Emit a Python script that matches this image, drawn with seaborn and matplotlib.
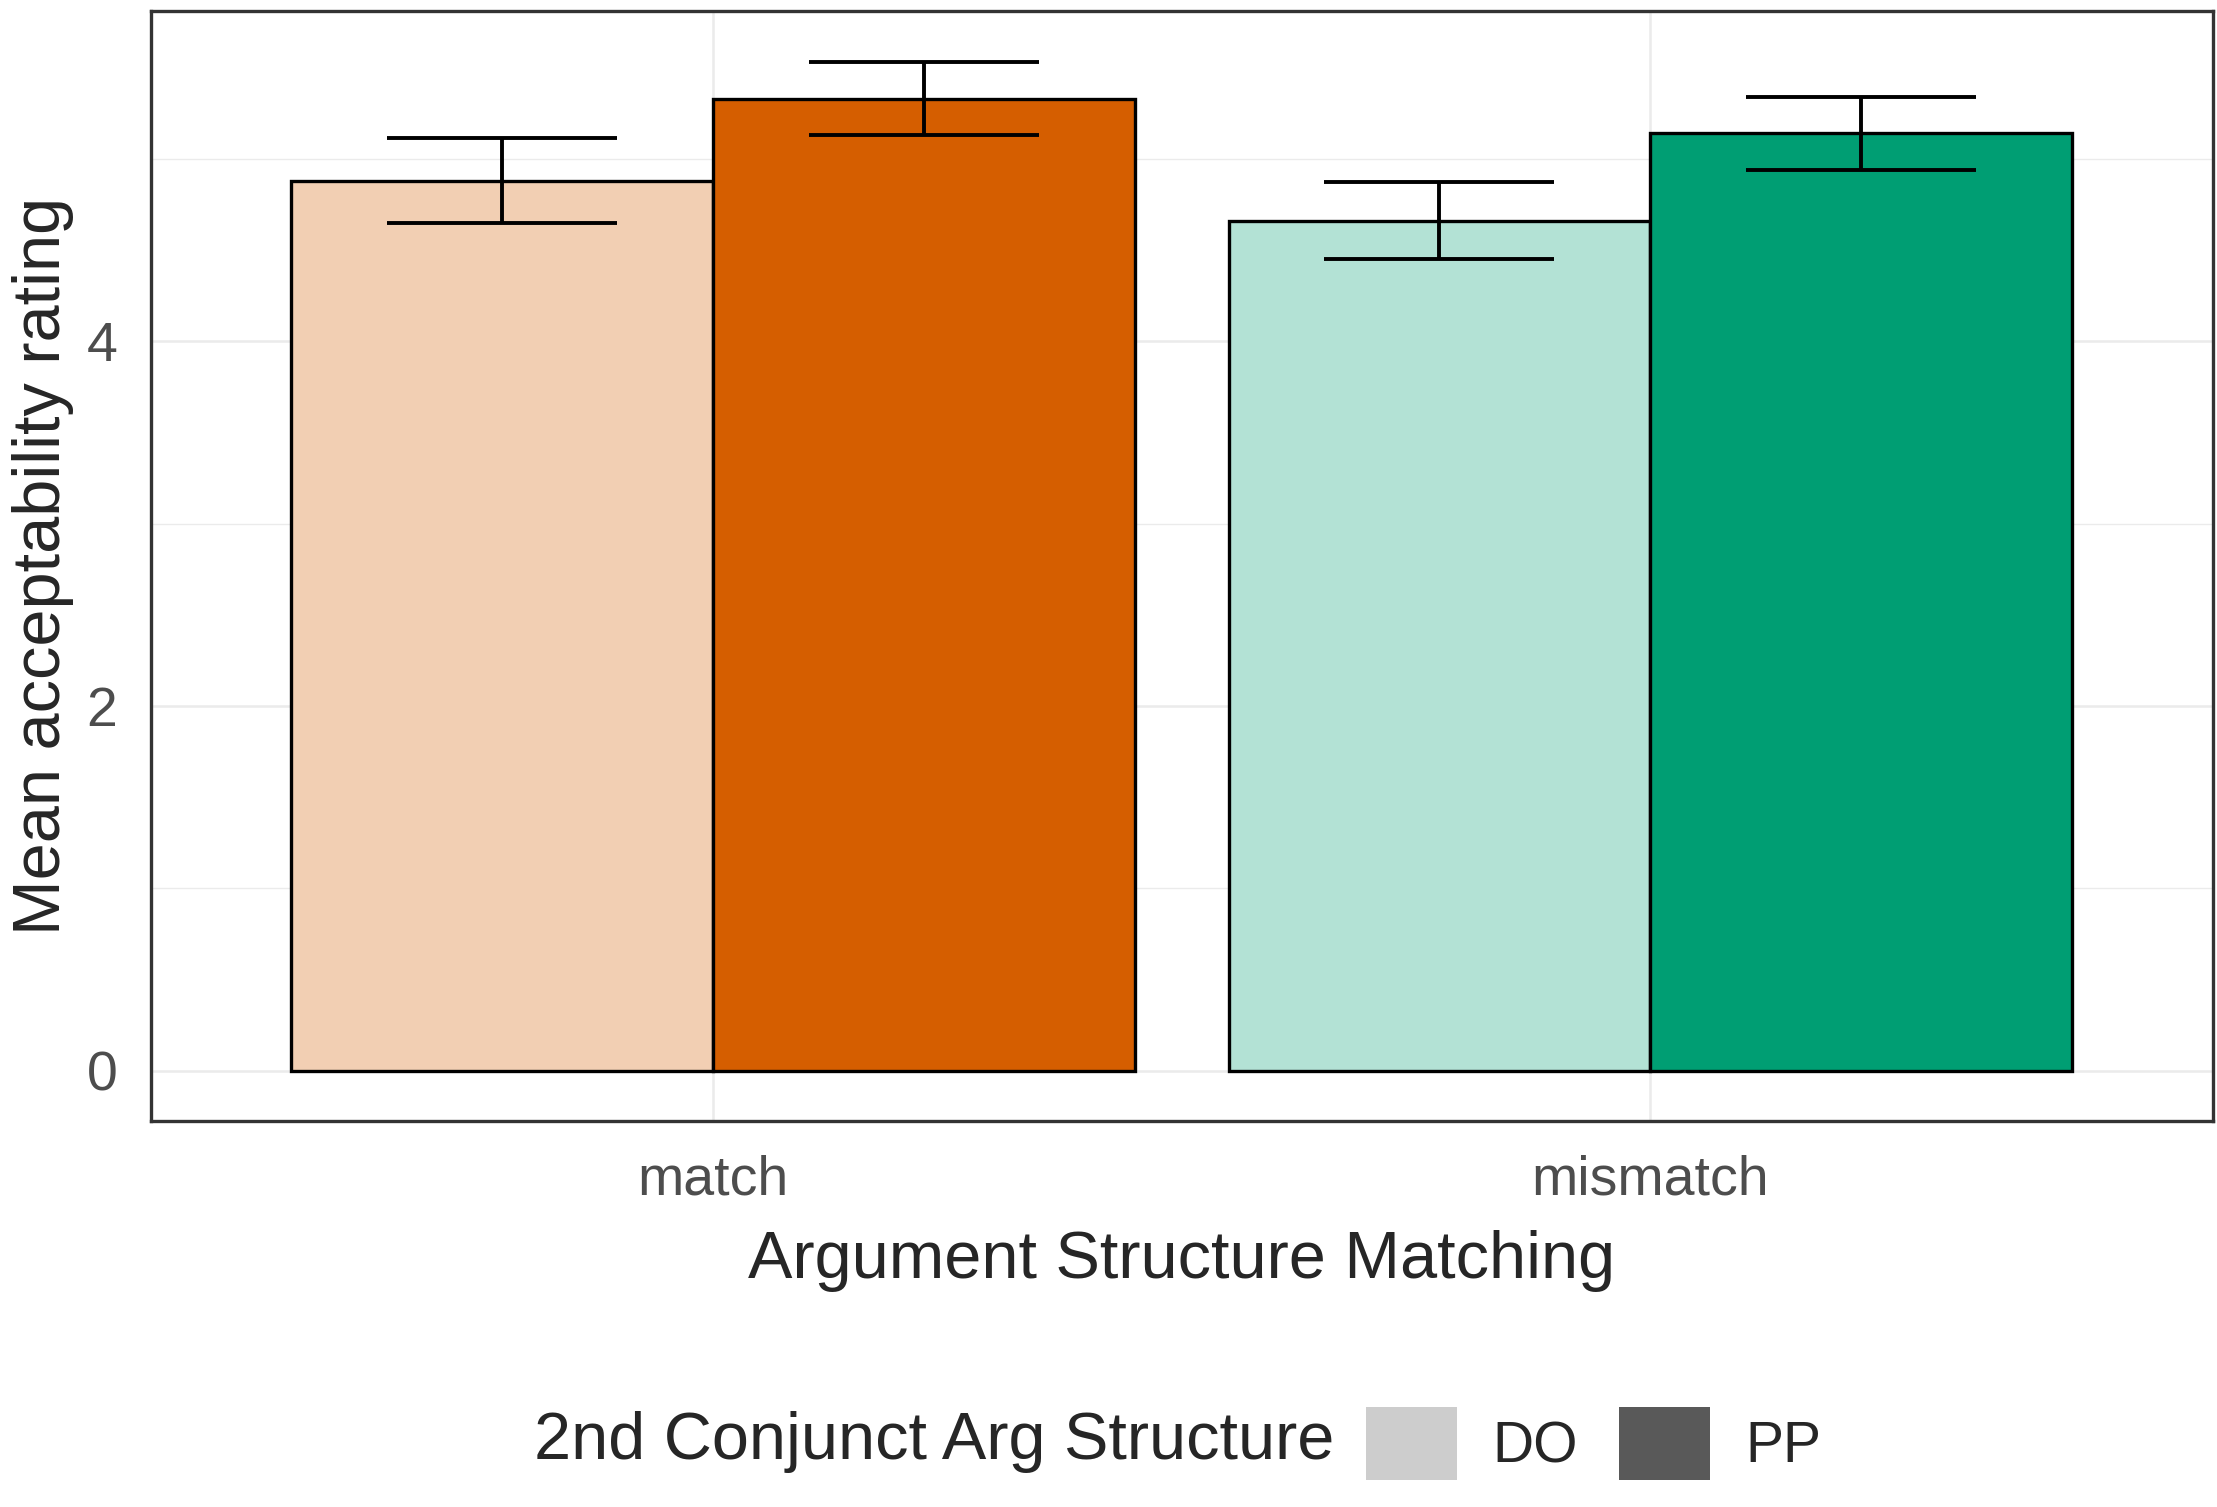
import numpy as np
import pandas as pd
import matplotlib
matplotlib.use('Agg')
import matplotlib.pyplot as plt
from matplotlib.patches import Patch
from matplotlib.ticker import MultipleLocator
import seaborn as sns

# values
matching = ['match', 'match', 'mismatch', 'mismatch']
structure = ['DO', 'PP', 'DO', 'PP']
mean_rating = [4.88, 5.33, 4.66, 5.14]
se_rating = [0.235, 0.20, 0.21, 0.20]

match_order = ['match', 'mismatch']
struct_order = ['DO', 'PP']
bar_colors = {
    ('match', 'DO'): '#F2CFB3',
    ('match', 'PP'): '#D55E00',
    ('mismatch', 'DO'): '#B3E2D5',
    ('mismatch', 'PP'): '#009E73',
}
legend_colors = {'DO': '#CDCDCD', 'PP': '#595959'}

df = pd.DataFrame({'matching': matching, 'structure': structure,
                   'rating': mean_rating, 'se': se_rating})

sns.set_style('white')
plt.rcParams['font.family'] = ['Liberation Sans', 'DejaVu Sans']

fig, ax = plt.subplots(figsize=(22.17, 15.07), dpi=100)
fig.subplots_adjust(left=0.068, right=0.998, top=0.9927, bottom=0.256)

sns.barplot(data=df, x='matching', y='rating', hue='structure',
            order=match_order, hue_order=struct_order, errorbar=None,
            width=0.9, edgecolor='black', linewidth=2.4, legend=False, ax=ax)

# colour each bar and add the error bars on top
for lvl, cont in zip(struct_order, ax.containers):
    for cat, bar in zip(match_order, cont):
        row = df[(df.matching == cat) & (df.structure == lvl)].iloc[0]
        bar.set_facecolor(bar_colors[(cat, lvl)])
        xc = bar.get_x() + bar.get_width() / 2
        ax.errorbar(xc, row.rating, yerr=row.se, color='black', elinewidth=2.8,
                    capsize=83, capthick=2.8, zorder=5)

ax.set_xlim(-0.6, 1.6)
ax.set_ylim(-0.277, 5.81)
ax.set_yticks([0, 2, 4])
ax.yaxis.set_minor_locator(MultipleLocator(1))
ax.set_axisbelow(True)
ax.grid(which='major', color='#EBEBEB', linewidth=1.8)
ax.grid(which='minor', axis='y', color='#EBEBEB', linewidth=1.0)

for sp in ax.spines.values():
    sp.set_visible(True)
    sp.set_color('#333333')
    sp.set_linewidth(2.4)

ax.tick_params(which='major', length=10, width=1.8, color='#333333',
               labelsize=40, labelcolor='#4D4D4D', pad=14)
ax.tick_params(which='minor', length=0)
ax.tick_params(axis='x', pad=14)

ax.set_xlabel('Argument Structure Matching', fontsize=48, labelpad=17)
ax.set_ylabel('Mean acceptability rating', fontsize=48, labelpad=9)

# legend at the bottom with its title on the left
fig.text(0.241, 0.043, '2nd Conjunct Arg Structure', fontsize=48,
         ha='left', va='center')
handles = [Patch(facecolor=legend_colors[s], edgecolor='none') for s in struct_order]
fig.legend(handles, struct_order, loc='center left', bbox_to_anchor=(0.616, 0.042),
           ncol=2, frameon=False, fontsize=41, handlelength=1.6, handleheight=1.6,
           handletextpad=0.62, columnspacing=0.72, borderpad=0, borderaxespad=0)

plt.savefig('out.png', dpi=100)
